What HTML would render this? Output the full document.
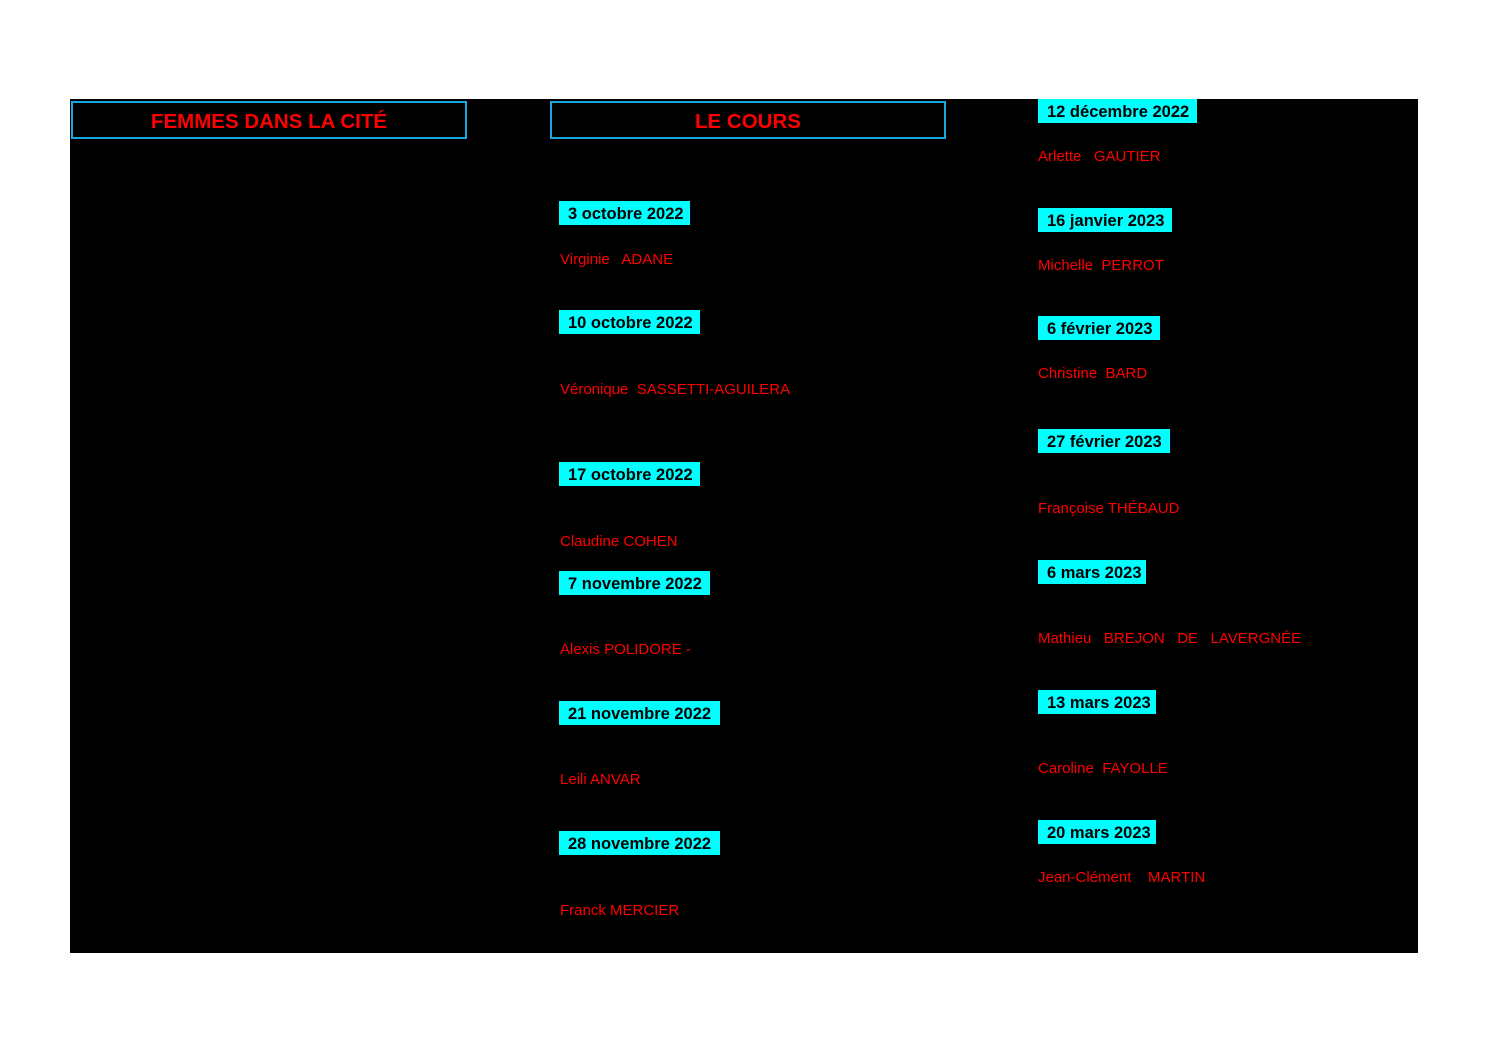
<!DOCTYPE html>
<html><head><meta charset="utf-8"><style>
body{margin:0;width:1497px;height:1058px;background:#fff;position:relative;overflow:hidden;font-family:"Liberation Sans",sans-serif}
#bg{position:absolute;left:70px;top:99px;width:1348px;height:854px;background:#000}
.h{position:absolute;top:101px;height:34px;width:392px;border:2px solid #1aa7e0;color:#f00;font-weight:bold;font-size:20.5px;text-align:center;line-height:38px}
.d{position:absolute;height:24px;background:#00ffff;color:#000;font-weight:bold;font-size:16.5px;line-height:27px;padding-left:9px;box-sizing:border-box;white-space:nowrap;overflow:hidden}
.n{position:absolute;color:#f00;font-size:15px;white-space:pre;line-height:20px}
</style></head><body>
<div id="bg"></div>
<div class="h" style="left:71px">FEMMES DANS LA CITÉ</div>
<div class="h" style="left:550px">LE COURS</div>

<div class="d" style="left:559px;top:201px;width:131px">3 octobre 2022</div>
<div class="n" style="left:560px;top:250px">Virginie   ADANE</div>
<div class="d" style="left:559px;top:310px;width:141px">10 octobre 2022</div>
<div class="n" style="left:560px;top:380px">Véronique  SASSETTI-AGUILERA</div>
<div class="d" style="left:559px;top:462px;width:141px">17 octobre 2022</div>
<div class="n" style="left:560px;top:532px">Claudine COHEN</div>
<div class="d" style="left:559px;top:571px;width:151px">7 novembre 2022</div>
<div class="n" style="left:560px;top:640px">Alexis POLIDORE -</div>
<div class="d" style="left:559px;top:701px;width:161px">21 novembre 2022</div>
<div class="n" style="left:560px;top:770px">Leili ANVAR</div>
<div class="d" style="left:559px;top:831px;width:161px">28 novembre 2022</div>
<div class="n" style="left:560px;top:901px">Franck MERCIER</div>

<div class="d" style="left:1038px;top:99px;width:159px">12 décembre 2022</div>
<div class="n" style="left:1038px;top:147px">Arlette   GAUTIER</div>
<div class="d" style="left:1038px;top:208px;width:134px">16 janvier 2023</div>
<div class="n" style="left:1038px;top:256px">Michelle  PERROT</div>
<div class="d" style="left:1038px;top:316px;width:122px">6 février 2023</div>
<div class="n" style="left:1038px;top:364px">Christine  BARD</div>
<div class="d" style="left:1038px;top:429px;width:132px">27 février 2023</div>
<div class="n" style="left:1038px;top:499px">Françoise THÉBAUD</div>
<div class="d" style="left:1038px;top:560px;width:108px">6 mars 2023</div>
<div class="n" style="left:1038px;top:629px">Mathieu   BREJON   DE   LAVERGNÉE</div>
<div class="d" style="left:1038px;top:690px;width:118px">13 mars 2023</div>
<div class="n" style="left:1038px;top:759px">Caroline  FAYOLLE</div>
<div class="d" style="left:1038px;top:820px;width:118px">20 mars 2023</div>
<div class="n" style="left:1038px;top:868px">Jean-Clément    MARTIN</div>
</body></html>
